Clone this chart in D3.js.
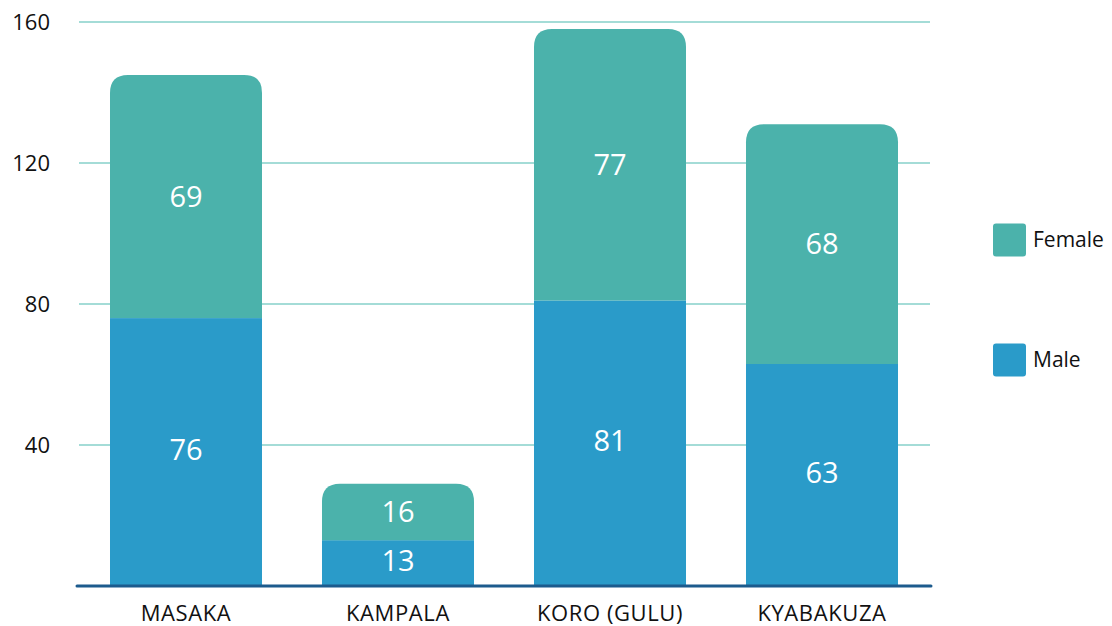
<!DOCTYPE html>
<html>
<head>
<meta charset="utf-8">
<script src="https://cdn.jsdelivr.net/npm/d3@7"></script>
<style>
  body { margin: 0; background: #fff; }
  text { font-family: "Open Sans", Lato, sans-serif; }
</style>
</head>
<body>
<script>
const regions = ['MASAKA', 'KAMPALA', 'KORO (GULU)', 'KYABAKUZA'];
const male = [76, 13, 81, 63];
const female = [69, 16, 77, 68];
const yTicks = [40, 80, 120, 160];

const width = 1112, height = 626;
const svg = d3.select('body').append('svg')
  .attr('width', width)
  .attr('height', height);

const y = d3.scaleLinear().domain([0, 160]).range([586, 22]);
const x = d3.scaleBand().domain(regions).range([80, 928])
  .paddingInner(0.283).paddingOuter(0.1415);

const colors = { Female: '#4bb2ab', Male: '#2a9bc9' };

// gridlines
svg.selectAll('.grid')
  .data(yTicks)
  .enter().append('line')
  .attr('x1', 79).attr('x2', 930)
  .attr('y1', d => y(d)).attr('y2', d => y(d))
  .attr('stroke', '#86d0ca')
  .attr('stroke-width', 1.3);

svg.selectAll('.ytick')
  .data(yTicks)
  .enter().append('text')
  .attr('x', 50)
  .attr('y', d => y(d))
  .attr('dy', '0.35em')
  .attr('text-anchor', 'end')
  .style('font-size', '22px')
  .style('fill', '#111')
  .text(d => d);

const data = regions.map((r, i) => ({ region: r, male: male[i], female: female[i] }));

// path with rounded top corners
function topRounded(x0, y0, w, h, r) {
  return `M${x0},${y0 + h}V${y0 + r}Q${x0},${y0} ${x0 + r},${y0}H${x0 + w - r}Q${x0 + w},${y0} ${x0 + w},${y0 + r}V${y0 + h}Z`;
}

const bw = x.bandwidth();

svg.selectAll('.male')
  .data(data)
  .enter().append('rect')
  .attr('x', d => x(d.region))
  .attr('y', d => y(d.male))
  .attr('width', bw)
  .attr('height', d => y(0) - y(d.male))
  .attr('fill', colors.Male);

svg.selectAll('.female')
  .data(data)
  .enter().append('path')
  .attr('d', d => {
    const top = y(d.male + d.female);
    return topRounded(x(d.region), top, bw, y(d.male) - top, 18);
  })
  .attr('fill', colors.Female);

// value labels
svg.selectAll('.mlab')
  .data(data)
  .enter().append('text')
  .attr('x', d => x(d.region) + bw / 2)
  .attr('y', d => (y(0) + y(d.male)) / 2 - 2)
  .attr('dy', '0.35em')
  .attr('text-anchor', 'middle')
  .style('font-size', '29px')
  .style('fill', '#fff')
  .text(d => d.male);

svg.selectAll('.flab')
  .data(data)
  .enter().append('text')
  .attr('x', d => x(d.region) + bw / 2)
  .attr('y', d => (y(d.male) + y(d.male + d.female)) / 2)
  .attr('dy', '0.35em')
  .attr('text-anchor', 'middle')
  .style('font-size', '29px')
  .style('fill', '#fff')
  .text(d => d.female);

// baseline
svg.append('line')
  .attr('x1', 77).attr('x2', 931)
  .attr('y1', y(0)).attr('y2', y(0))
  .attr('stroke', '#1c5b8d')
  .attr('stroke-width', 3)
  .attr('stroke-linecap', 'round');

svg.selectAll('.xlab')
  .data(regions)
  .enter().append('text')
  .attr('x', d => x(d) + bw / 2)
  .attr('y', 613)
  .attr('dy', '0.35em')
  .attr('text-anchor', 'middle')
  .style('font-size', '22px')
  .style('letter-spacing', '0.6px')
  .style('fill', '#111')
  .text(d => d);

// legend
const legend = [{ name: 'Female', y: 240 }, { name: 'Male', y: 360 }];
const lg = svg.selectAll('.legend')
  .data(legend)
  .enter().append('g')
  .attr('transform', d => `translate(993,${d.y})`);

lg.append('rect')
  .attr('x', 0).attr('y', -16.5)
  .attr('width', 33).attr('height', 33)
  .attr('rx', 3)
  .attr('fill', d => colors[d.name]);

lg.append('text')
  .attr('x', 40)
  .attr('y', 0)
  .attr('dy', '0.35em')
  .style('font-size', '21px')
  .style('fill', '#111')
  .text(d => d.name);
</script>
</body>
</html>
